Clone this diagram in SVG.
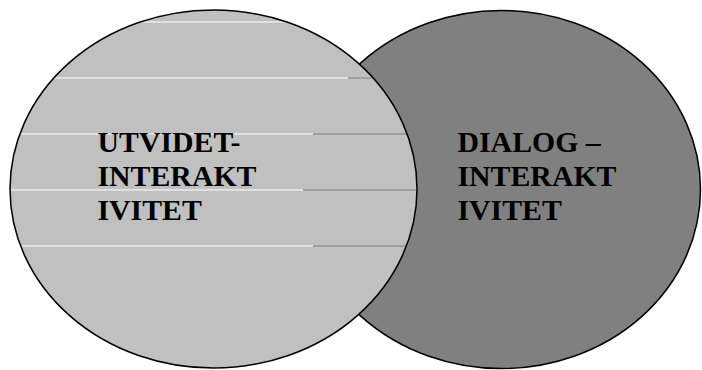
<svg xmlns="http://www.w3.org/2000/svg" width="702" height="370" viewBox="0 0 702 370">
<style>
.ell{stroke:#000;stroke-width:1.5}
.w{stroke:#fff;stroke-width:1.2}
.g{stroke:#808080;stroke-width:1.2}
.t{font-family:"Liberation Serif","Times New Roman",serif;font-weight:bold;font-size:29.8px;fill:#000}
</style>
<defs>
<clipPath id="leftClip"><ellipse cx="213.5" cy="189" rx="203" ry="178.5"/></clipPath>
</defs>
<rect width="702" height="370" fill="#fff"/>
<g id="dialog">
<ellipse class="ell" cx="501.5" cy="189.5" rx="199" ry="179" fill="#808080"/>
<text class="t" x="457.5" y="152">DIALOG –</text>
<text class="t" x="457.5" y="185.5">INTERAKT</text>
<text class="t" x="457.5" y="219.5">IVITET</text>
</g>
<g id="utvidet">
<ellipse cx="213.5" cy="189" rx="203.5" ry="179" fill="#c0c0c0"/>
<g id="connectors" clip-path="url(#leftClip)">
<line class="w" x1="0" y1="22" x2="420" y2="22"/>
<line class="w" x1="0" y1="78" x2="348" y2="78"/>
<line class="g" x1="348" y1="78" x2="420" y2="78"/>
<line class="w" x1="0" y1="134" x2="313" y2="134"/>
<line class="g" x1="313" y1="134" x2="420" y2="134"/>
<line class="w" x1="0" y1="190" x2="303" y2="190"/>
<line class="g" x1="303" y1="190" x2="420" y2="190"/>
<line class="w" x1="0" y1="246" x2="313" y2="246"/>
<line class="g" x1="313" y1="246" x2="420" y2="246"/>
</g>
<ellipse class="ell" cx="213.5" cy="189" rx="203.5" ry="179" fill="none"/>
<text class="t" x="97.5" y="152">UTVIDET-</text>
<text class="t" x="97.5" y="185.5">INTERAKT</text>
<text class="t" x="97.5" y="219.5">IVITET</text>
</g>
</svg>
